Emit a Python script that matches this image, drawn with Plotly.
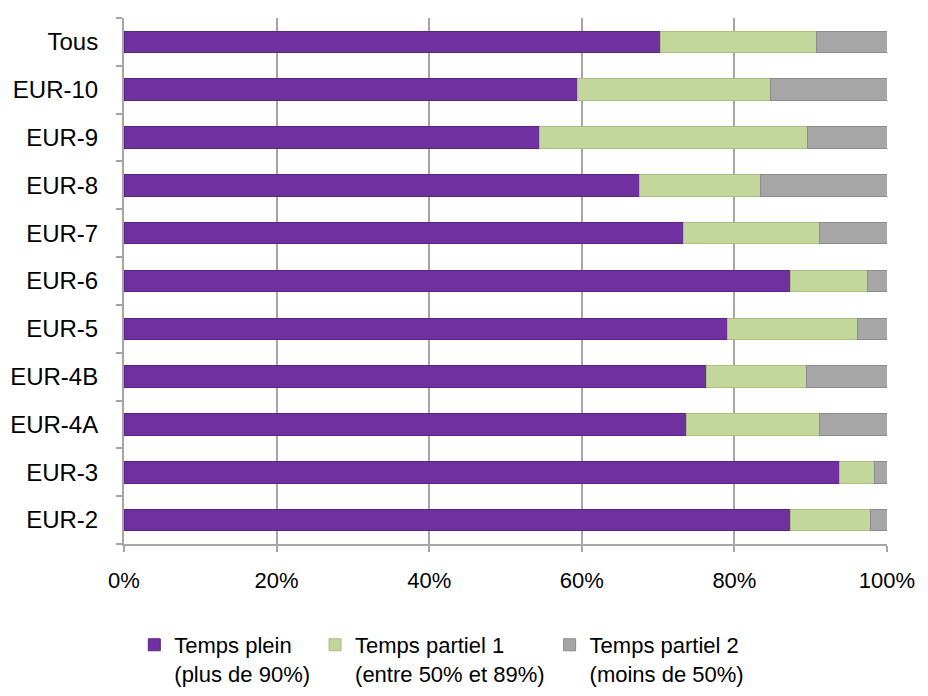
import plotly.graph_objects as go

categories = ["EUR-2", "EUR-3", "EUR-4A", "EUR-4B", "EUR-5", "EUR-6",
              "EUR-7", "EUR-8", "EUR-9", "EUR-10", "Tous"]
temps_plein = [87.3, 93.8, 73.7, 76.4, 79.1, 87.3, 73.3, 67.6, 54.5, 59.5, 70.3]
temps_partiel_1 = [10.5, 4.5, 17.4, 13.1, 17.0, 10.1, 17.8, 15.8, 35.1, 25.2, 20.4]
temps_partiel_2 = [round(100 - a - b, 1) for a, b in zip(temps_plein, temps_partiel_1)]

names = ["Temps plein<br>(plus de 90%)",
         "Temps partiel 1<br>(entre 50% et 89%)",
         "Temps partiel 2<br>(moins de 50%)"]
colors = ["#7030A0", "#C3D69B", "#A6A6A6"]
lines = ["#5B2485", "#A9BE80", "#8C8C8C"]

FONT = "Liberation Sans, Arial, sans-serif"

fig = go.Figure()
for vals, name, col, lc in zip([temps_plein, temps_partiel_1, temps_partiel_2], names, colors, lines):
    fig.add_trace(go.Bar(
        y=categories, x=vals, name=name, orientation="h",
        marker=dict(color=col, line=dict(color=lc, width=1)),
        width=0.45,
    ))

fig.update_layout(
    barmode="stack",
    width=912, height=680,
    margin=dict(l=116, r=33, t=10, b=144, autoexpand=False),
    paper_bgcolor="white", plot_bgcolor="white",
    font=dict(family=FONT, size=24, color="black"),
    showlegend=True,
    legend=dict(orientation="h", x=0.0135, xanchor="left", y=-0.152, yanchor="top",
                font=dict(family=FONT, size=22), valign="top",
                traceorder="normal"),
    xaxis=dict(range=[0, 100], tickvals=[0, 20, 40, 60, 80, 100],
               ticktext=["0%", "20%", "40%", "60%", "80%", "100%"],
               showgrid=True, gridcolor="#A6A6A6", gridwidth=2,
               showline=True, linecolor="#A6A6A6", linewidth=2,
               ticks="outside", ticklen=6, tickcolor="#A6A6A6", tickwidth=2,
               ticklabelstandoff=10, automargin=False,
               zeroline=False, tickfont=dict(size=22)),
    yaxis=dict(showline=True, linecolor="#A6A6A6", linewidth=2,
               ticks="outside", ticklen=6, tickcolor="#A6A6A6", tickwidth=2,
               tickson="boundaries", showgrid=False, tickfont=dict(size=24),
               ticklabelstandoff=19, automargin=False,
               categoryorder="array", categoryarray=categories),
)

fig.write_html("out.html")
